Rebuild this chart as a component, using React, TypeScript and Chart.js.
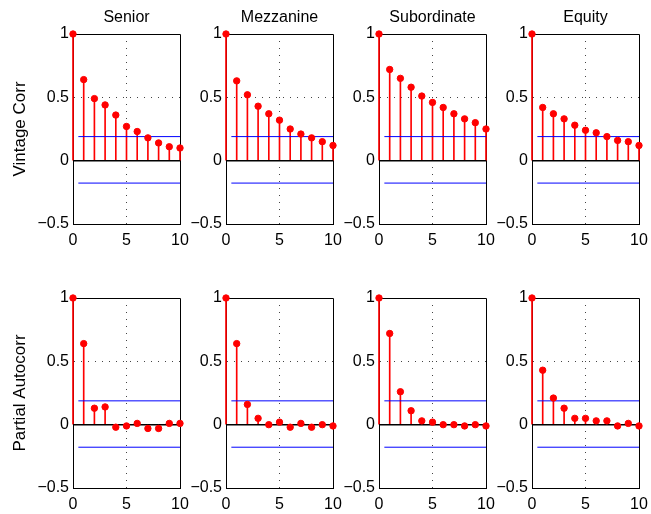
import React, { useEffect, useRef } from "react";
import { Chart, registerables } from "chart.js";
Chart.register(...registerables);

// ---- data ----
const lags = [0, 1, 2, 3, 4, 5, 6, 7, 8, 9, 10];
const tranches = ["Senior", "Mezzanine", "Subordinate", "Equity"];
const rowLabels = ["Vintage Corr", "Partial Autocorr"];
const xTickValues = [0, 5, 10];
const yTickValues = [-0.5, 0, 0.5, 1];

const seniorCorr = [1, 0.64, 0.49, 0.44, 0.36, 0.27, 0.23, 0.18, 0.14, 0.11, 0.1];
const mezzanineCorr = [1, 0.63, 0.52, 0.43, 0.37, 0.32, 0.25, 0.21, 0.18, 0.15, 0.12];
const subordinateCorr = [1, 0.72, 0.65, 0.58, 0.51, 0.46, 0.42, 0.37, 0.33, 0.3, 0.25];
const equityCorr = [1, 0.42, 0.37, 0.33, 0.28, 0.24, 0.22, 0.19, 0.16, 0.15, 0.12];

const seniorPacf = [1, 0.64, 0.13, 0.14, -0.02, -0.01, 0.01, -0.03, -0.03, 0.01, 0.01];
const mezzaninePacf = [1, 0.64, 0.16, 0.05, 0.0, 0.02, -0.02, 0.01, -0.02, 0.0, -0.01];
const subordinatePacf = [1, 0.72, 0.26, 0.11, 0.03, 0.02, 0.0, 0.0, -0.01, 0.0, -0.01];
const equityPacf = [1, 0.43, 0.21, 0.13, 0.05, 0.05, 0.03, 0.03, -0.01, 0.01, -0.01];

const corrBounds = [0.19, -0.177];
const pacfBounds = [0.188, -0.178];
const boundRange = [0.5, 10];

const rows = [
  [seniorCorr, mezzanineCorr, subordinateCorr, equityCorr],
  [seniorPacf, mezzaninePacf, subordinatePacf, equityPacf],
];
const rowBounds = [corrBounds, pacfBounds];

// ---- layout ----
const PLOT_LEFTS = [73, 226, 379, 532];
const PLOT_TOPS = [34, 298];
const PLOT_W = 107;
const PLOT_H = 190;
const FONT = "'Liberation Sans', Arial, Helvetica, sans-serif";

const fmt = (v: number) => (v < 0 ? "\u2212" + String(Math.abs(v)) : String(v));

function Panel({ row, col }: { row: number; col: number }) {
  const ref = useRef<HTMLCanvasElement>(null);
  const values = rows[row][col];
  const bounds = rowBounds[row];
  const plotLeft = PLOT_LEFTS[col];
  const plotTop = PLOT_TOPS[row];
  const cl = col === 0 ? 0 : plotLeft - 50;
  const ct = row === 0 ? 0 : plotTop - 30;
  const cr = plotLeft + PLOT_W + 16;
  const cb = plotTop + PLOT_H + 26;
  const w = cr - cl;
  const h = cb - ct;

  useEffect(() => {
    const title = row === 0 ? tranches[col] : "";
    const boxPlugin = {
      id: "box" + row + col,
      beforeDatasetsDraw(chart: any) {
        const { ctx, chartArea } = chart;
        ctx.save();
        ctx.strokeStyle = "#000";
        ctx.lineWidth = 1;
        ctx.beginPath();
        ctx.moveTo(Math.round(chartArea.left), Math.round(chartArea.top) + 0.5);
        ctx.lineTo(Math.round(chartArea.right) + 0.5, Math.round(chartArea.top) + 0.5);
        ctx.lineTo(Math.round(chartArea.right) + 0.5, Math.round(chartArea.bottom));
        ctx.stroke();
        if (title) {
          ctx.fillStyle = "#000";
          ctx.font = "16px " + FONT;
          ctx.textAlign = "center";
          ctx.textBaseline = "alphabetic";
          ctx.fillText(title, (chartArea.left + chartArea.right) / 2, chartArea.top - 12);
        }
        ctx.restore();
      },
    };
    const pts = lags.map((x, i) => ({ x, y: values[i] }));
    const chart = new Chart(ref.current!, {
      type: "scatter",
      data: {
        datasets: [
          {
            type: "scatter",
            data: pts,
            backgroundColor: "#ff0000",
            borderColor: "#ff0000",
            pointRadius: 3.2,
            pointHoverRadius: 3.2,
            clip: false,
            order: 0,
          } as any,
          {
            type: "scatter",
            showLine: true,
            data: [
              { x: 0, y: 0 },
              { x: 10, y: 0 },
            ],
            borderColor: "#000",
            borderWidth: 1.5,
            pointRadius: 0,
            order: 1,
          } as any,
          {
            type: "scatter",
            showLine: true,
            data: [
              { x: boundRange[0], y: bounds[0] },
              { x: boundRange[1], y: bounds[0] },
            ],
            borderColor: "#0000ff",
            borderWidth: 1,
            pointRadius: 0,
            order: 2,
          } as any,
          {
            type: "scatter",
            showLine: true,
            data: [
              { x: boundRange[0], y: bounds[1] },
              { x: boundRange[1], y: bounds[1] },
            ],
            borderColor: "#0000ff",
            borderWidth: 1,
            pointRadius: 0,
            order: 2,
          } as any,
          {
            type: "bar",
            data: pts,
            backgroundColor: "#ff0000",
            barThickness: 1,
            clip: false,
            order: 3,
          } as any,
        ],
      },
      options: {
        responsive: false,
        animation: false,
        devicePixelRatio: 1,
        events: [],
        layout: {
          padding: { top: plotTop - ct, right: cr - (plotLeft + PLOT_W), left: 0, bottom: 0 },
        },
        plugins: { legend: { display: false }, tooltip: { enabled: false }, title: { display: false } },
        scales: {
          x: {
            type: "linear",
            position: "bottom",
            min: 0,
            max: 10,
            offset: false,
            afterBuildTicks: (s: any) => {
              s.ticks = xTickValues.map((v) => ({ value: v }));
            },
            afterFit: (s: any) => {
              s.height = cb - (plotTop + PLOT_H);
            },
            ticks: {
              color: "#000",
              font: { family: FONT, size: 16 },
              padding: 7,
              maxRotation: 0,
              autoSkip: false,
              callback: (v: any) => fmt(Number(v)),
            },
            grid: {
              offset: false,
              drawTicks: false,
              lineWidth: 1,
              color: (c: any) => (c.tick && c.tick.value === 5 ? "#444" : "rgba(0,0,0,0)"),
            },
            border: { display: true, color: "#000", width: 1, dash: [1, 6] },
          },
          y: {
            type: "linear",
            position: "left",
            min: -0.5,
            max: 1,
            afterBuildTicks: (s: any) => {
              s.ticks = yTickValues.map((v) => ({ value: v }));
            },
            afterFit: (s: any) => {
              s.width = plotLeft - cl;
            },
            ticks: {
              color: "#000",
              font: { family: FONT, size: 16 },
              padding: 4,
              autoSkip: false,
              callback: (v: any) => fmt(Number(v)),
            },
            grid: {
              offset: false,
              drawTicks: false,
              lineWidth: 1,
              color: (c: any) => (c.tick && c.tick.value === 0.5 ? "#444" : "rgba(0,0,0,0)"),
            },
            border: { display: true, color: "#000", width: 1, dash: [1, 6] },
            title: {
              display: col === 0,
              text: rowLabels[row],
              color: "#000",
              font: { family: FONT, size: 17 },
              padding: { top: 10, bottom: 0 },
            },
          },
        },
      } as any,
      plugins: [boxPlugin],
    });
    return () => chart.destroy();
  }, []);

  return (
    <canvas
      ref={ref}
      width={w}
      height={h}
      style={{ position: "absolute", left: cl, top: ct, width: w, height: h }}
    />
  );
}

export default function App() {
  const panels: any[] = [];
  for (let r = 0; r < 2; r++) {
    for (let c = 0; c < 4; c++) {
      panels.push(<Panel key={r + "-" + c} row={r} col={c} />);
    }
  }
  return (
    <div style={{ position: "absolute", left: 0, top: 0, width: 651, height: 514, background: "#fff" }}>
      {panels}
    </div>
  );
}
